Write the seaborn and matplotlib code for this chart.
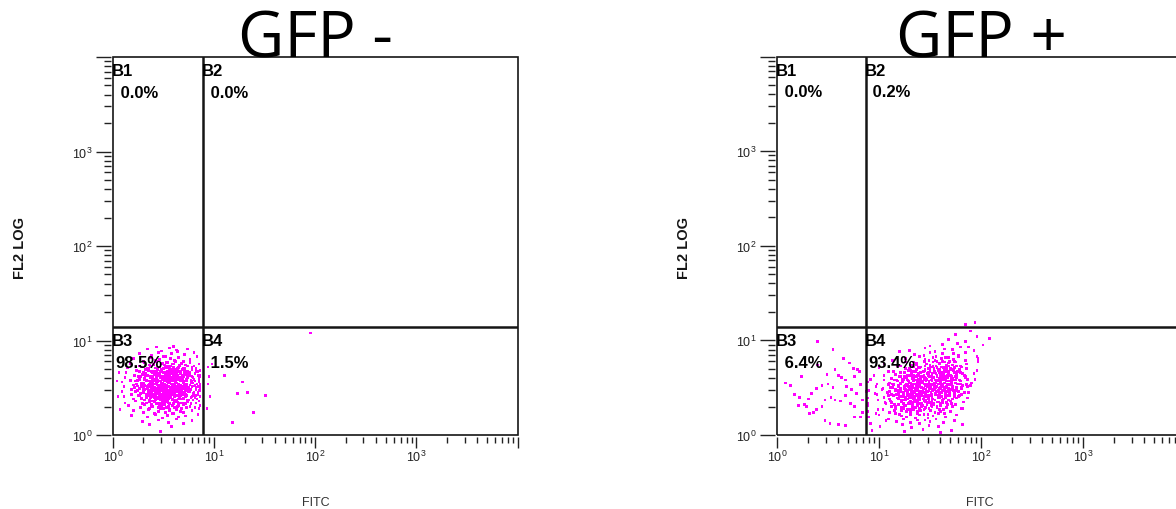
import matplotlib
matplotlib.use("Agg")
import numpy as np
import pandas as pd
import matplotlib.pyplot as plt
from matplotlib import ticker
from matplotlib.patches import Rectangle
import seaborn as sns

# ---------------------------------------------------------------------------
# Data: two FITC / FL2 dot plots with a quadrant gate (B1..B4).
# Events are stored as log10 channel values (decades) for FITC and FL2.
# ---------------------------------------------------------------------------
panel_titles = ["GFP -", "GFP +"]
quadrant_names = ["B1", "B2", "B3", "B4"]
neg_quadrant_pct = [0.0, 0.0, 98.5, 1.5]
pos_quadrant_pct = [0.0, 0.2, 6.4, 93.4]
neg_gate = (7.73, 13.9)       # (FITC threshold, FL2 threshold)
pos_gate = (7.41, 13.9)
axis_limits = (1.0, 1.0e4)
tick_exponents = [0, 1, 2, 3]
x_axis_label = "FITC"
y_axis_label = "FL2 LOG"

neg_b3_events = [
    (0.47, 0.04),
    (0.36, 0.11), (0.58, 0.09), (0.70, 0.12),
    (0.29, 0.14), (0.45, 0.16), (0.55, 0.13), (0.63, 0.17), (0.78, 0.15),
    (0.18, 0.21), (0.34, 0.19), (0.42, 0.22), (0.49, 0.18), (0.54, 0.21), (0.60, 0.23), (0.65, 0.19), (0.72, 0.20), (0.84, 0.22),
    (0.07, 0.27), (0.20, 0.26), (0.30, 0.24), (0.35, 0.27), (0.41, 0.23), (0.45, 0.25), (0.47, 0.28), (0.52, 0.24), (0.56, 0.26),
    (0.59, 0.23), (0.63, 0.27), (0.67, 0.25), (0.70, 0.24), (0.78, 0.26), (0.85, 0.28),
    (0.15, 0.31), (0.27, 0.29), (0.31, 0.32), (0.36, 0.28), (0.38, 0.30), (0.43, 0.33), (0.45, 0.29), (0.46, 0.31), (0.50, 0.28),
    (0.51, 0.32), (0.55, 0.30), (0.56, 0.27), (0.60, 0.33), (0.61, 0.29), (0.65, 0.31), (0.68, 0.28), (0.70, 0.32), (0.76, 0.30),
    (0.81, 0.29), (0.86, 0.31),
    (0.12, 0.34), (0.22, 0.36), (0.29, 0.33), (0.31, 0.37), (0.36, 0.35), (0.38, 0.32), (0.39, 0.36), (0.43, 0.34), (0.45, 0.38),
    (0.45, 0.33), (0.49, 0.35), (0.50, 0.37), (0.50, 0.32), (0.54, 0.36), (0.56, 0.34), (0.56, 0.33), (0.59, 0.37), (0.61, 0.35),
    (0.63, 0.36), (0.65, 0.32), (0.67, 0.34), (0.68, 0.38), (0.72, 0.33), (0.74, 0.35), (0.79, 0.37), (0.82, 0.34), (0.85, 0.36),
    (0.05, 0.41), (0.11, 0.41), (0.20, 0.38), (0.26, 0.42), (0.28, 0.39), (0.33, 0.40), (0.35, 0.43), (0.36, 0.37), (0.39, 0.41),
    (0.41, 0.39), (0.41, 0.42), (0.45, 0.38), (0.44, 0.40), (0.48, 0.43), (0.47, 0.37), (0.50, 0.41), (0.52, 0.39), (0.51, 0.42),
    (0.55, 0.38), (0.54, 0.40), (0.58, 0.43), (0.57, 0.39), (0.61, 0.41), (0.60, 0.37), (0.64, 0.42), (0.66, 0.40), (0.65, 0.38),
    (0.69, 0.43), (0.70, 0.39), (0.72, 0.41), (0.75, 0.37), (0.77, 0.40), (0.80, 0.42), (0.83, 0.38), (0.86, 0.41),
    (0.09, 0.46), (0.18, 0.43), (0.24, 0.47), (0.27, 0.44), (0.30, 0.45), (0.31, 0.48), (0.35, 0.42), (0.36, 0.46), (0.38, 0.44),
    (0.40, 0.47), (0.41, 0.43), (0.42, 0.45), (0.44, 0.48), (0.45, 0.44), (0.46, 0.46), (0.48, 0.42), (0.49, 0.47), (0.50, 0.45),
    (0.52, 0.43), (0.53, 0.48), (0.55, 0.44), (0.56, 0.46), (0.57, 0.42), (0.59, 0.47), (0.60, 0.45), (0.61, 0.43), (0.63, 0.48),
    (0.64, 0.46), (0.66, 0.44), (0.67, 0.42), (0.68, 0.47), (0.71, 0.45), (0.72, 0.43), (0.75, 0.46), (0.77, 0.48), (0.79, 0.44),
    (0.82, 0.42), (0.84, 0.45), (0.86, 0.47),
    (0.11, 0.51), (0.18, 0.48), (0.24, 0.52), (0.26, 0.49), (0.30, 0.50), (0.31, 0.53), (0.35, 0.47), (0.35, 0.51), (0.38, 0.49),
    (0.38, 0.52), (0.41, 0.48), (0.41, 0.50), (0.44, 0.53), (0.43, 0.47), (0.46, 0.51), (0.46, 0.49), (0.49, 0.52), (0.48, 0.48),
    (0.51, 0.50), (0.50, 0.53), (0.53, 0.49), (0.53, 0.51), (0.56, 0.47), (0.55, 0.52), (0.58, 0.50), (0.57, 0.48), (0.60, 0.53),
    (0.60, 0.49), (0.63, 0.51), (0.62, 0.47), (0.65, 0.50), (0.65, 0.52), (0.68, 0.48), (0.68, 0.51), (0.71, 0.53), (0.71, 0.49),
    (0.75, 0.47), (0.75, 0.50), (0.80, 0.52), (0.82, 0.48), (0.84, 0.51), (0.86, 0.49),
    (0.04, 0.57), (0.09, 0.56), (0.20, 0.53), (0.22, 0.57), (0.28, 0.54), (0.28, 0.55), (0.33, 0.58), (0.33, 0.52), (0.37, 0.56),
    (0.36, 0.54), (0.40, 0.57), (0.39, 0.53), (0.43, 0.55), (0.42, 0.58), (0.45, 0.52), (0.44, 0.56), (0.48, 0.54), (0.47, 0.57),
    (0.50, 0.53), (0.49, 0.55), (0.52, 0.58), (0.51, 0.54), (0.54, 0.56), (0.54, 0.52), (0.57, 0.57), (0.56, 0.55), (0.59, 0.53),
    (0.58, 0.58), (0.61, 0.54), (0.62, 0.56), (0.64, 0.52), (0.63, 0.55), (0.67, 0.57), (0.66, 0.53), (0.70, 0.56), (0.69, 0.58),
    (0.73, 0.54), (0.73, 0.52), (0.77, 0.55), (0.78, 0.57), (0.81, 0.53), (0.85, 0.56), (0.86, 0.54),
    (0.12, 0.61), (0.17, 0.58), (0.25, 0.62), (0.26, 0.59), (0.31, 0.60), (0.32, 0.63), (0.34, 0.57), (0.37, 0.61), (0.39, 0.59),
    (0.39, 0.62), (0.42, 0.58), (0.43, 0.60), (0.45, 0.63), (0.46, 0.57), (0.47, 0.61), (0.49, 0.59), (0.50, 0.62), (0.51, 0.58),
    (0.53, 0.60), (0.54, 0.63), (0.56, 0.59), (0.56, 0.61), (0.58, 0.57), (0.60, 0.62), (0.61, 0.60), (0.62, 0.58), (0.64, 0.63),
    (0.65, 0.59), (0.66, 0.61), (0.68, 0.57), (0.69, 0.60), (0.70, 0.62), (0.73, 0.58), (0.74, 0.61), (0.76, 0.63), (0.80, 0.59),
    (0.81, 0.57), (0.85, 0.60), (0.86, 0.62),
    (0.06, 0.66), (0.13, 0.66), (0.21, 0.63), (0.26, 0.67), (0.29, 0.64), (0.32, 0.65), (0.35, 0.68), (0.37, 0.62), (0.39, 0.66),
    (0.41, 0.64), (0.43, 0.67), (0.44, 0.63), (0.46, 0.65), (0.48, 0.68), (0.49, 0.62), (0.51, 0.66), (0.52, 0.64), (0.54, 0.67),
    (0.55, 0.63), (0.57, 0.65), (0.58, 0.68), (0.60, 0.64), (0.62, 0.66), (0.63, 0.62), (0.65, 0.67), (0.67, 0.65), (0.69, 0.63),
    (0.71, 0.68), (0.73, 0.64), (0.76, 0.66), (0.78, 0.62), (0.81, 0.65), (0.84, 0.67), (0.86, 0.63),
    (0.14, 0.71), (0.23, 0.68), (0.28, 0.72), (0.32, 0.69), (0.35, 0.70), (0.37, 0.73), (0.40, 0.67), (0.42, 0.71), (0.44, 0.69),
    (0.46, 0.72), (0.48, 0.68), (0.50, 0.70), (0.52, 0.73), (0.54, 0.67), (0.56, 0.71), (0.58, 0.69), (0.60, 0.72), (0.62, 0.68),
    (0.64, 0.70), (0.66, 0.73), (0.69, 0.69), (0.71, 0.71), (0.74, 0.67), (0.78, 0.72), (0.82, 0.70), (0.86, 0.68),
    (0.17, 0.76), (0.26, 0.73), (0.31, 0.77), (0.36, 0.74), (0.40, 0.75), (0.43, 0.78), (0.46, 0.72), (0.49, 0.76), (0.51, 0.74),
    (0.54, 0.77), (0.57, 0.73), (0.59, 0.75), (0.62, 0.78), (0.65, 0.72), (0.68, 0.76), (0.72, 0.74), (0.76, 0.77), (0.80, 0.73),
    (0.85, 0.75),
    (0.20, 0.81), (0.30, 0.78), (0.37, 0.82), (0.42, 0.79), (0.46, 0.80), (0.50, 0.83), (0.53, 0.77), (0.57, 0.81), (0.61, 0.79),
    (0.65, 0.82), (0.70, 0.78), (0.76, 0.80), (0.83, 0.83),
    (0.26, 0.86), (0.38, 0.84), (0.45, 0.87), (0.52, 0.83), (0.58, 0.86), (0.64, 0.88), (0.71, 0.85), (0.80, 0.87),
    (0.34, 0.91), (0.48, 0.89), (0.56, 0.92), (0.63, 0.90), (0.74, 0.91),
    (0.43, 0.93), (0.60, 0.94),
]

# second acquisition block of the same B3 population (dense core)
neg_b3_core_events = [
    (0.39, 0.30), (0.48, 0.31), (0.53, 0.29), (0.59, 0.31), (0.64, 0.30), (0.73, 0.29),
    (0.33, 0.34), (0.41, 0.35), (0.47, 0.33), (0.52, 0.35), (0.55, 0.34), (0.60, 0.33), (0.64, 0.35), (0.69, 0.34), (0.77, 0.33),
    (0.28, 0.38), (0.37, 0.39), (0.42, 0.37), (0.46, 0.39), (0.49, 0.38), (0.53, 0.37), (0.56, 0.39), (0.59, 0.38), (0.62, 0.37),
    (0.66, 0.39), (0.70, 0.38), (0.74, 0.37), (0.81, 0.39),
    (0.25, 0.42), (0.33, 0.43), (0.38, 0.41), (0.42, 0.43), (0.46, 0.42), (0.49, 0.41), (0.52, 0.43), (0.55, 0.42), (0.57, 0.41),
    (0.60, 0.43), (0.63, 0.42), (0.66, 0.41), (0.69, 0.43), (0.73, 0.42), (0.78, 0.41), (0.84, 0.43),
    (0.22, 0.46), (0.30, 0.47), (0.35, 0.45), (0.39, 0.47), (0.43, 0.46), (0.46, 0.45), (0.48, 0.47), (0.51, 0.46), (0.54, 0.45),
    (0.56, 0.47), (0.58, 0.46), (0.61, 0.45), (0.63, 0.47), (0.66, 0.46), (0.69, 0.45), (0.72, 0.47), (0.76, 0.46), (0.80, 0.45),
    (0.85, 0.47),
    (0.21, 0.50), (0.28, 0.51), (0.34, 0.49), (0.38, 0.51), (0.41, 0.50), (0.44, 0.49), (0.47, 0.51), (0.50, 0.50), (0.52, 0.49),
    (0.54, 0.51), (0.57, 0.50), (0.59, 0.49), (0.61, 0.51), (0.64, 0.50), (0.66, 0.49), (0.69, 0.51), (0.72, 0.50), (0.75, 0.49),
    (0.78, 0.51), (0.82, 0.50), (0.86, 0.50),
    (0.23, 0.54), (0.30, 0.55), (0.35, 0.53), (0.39, 0.55), (0.42, 0.54), (0.45, 0.53), (0.48, 0.55), (0.51, 0.54), (0.53, 0.53),
    (0.55, 0.55), (0.58, 0.54), (0.60, 0.53), (0.62, 0.55), (0.65, 0.54), (0.67, 0.53), (0.70, 0.55), (0.73, 0.54), (0.76, 0.53),
    (0.79, 0.55), (0.83, 0.54), (0.86, 0.53),
    (0.24, 0.58), (0.31, 0.59), (0.36, 0.57), (0.40, 0.59), (0.44, 0.58), (0.47, 0.57), (0.49, 0.59), (0.52, 0.58), (0.55, 0.57),
    (0.57, 0.59), (0.59, 0.58), (0.62, 0.57), (0.64, 0.59), (0.67, 0.58), (0.70, 0.57), (0.73, 0.59), (0.77, 0.58), (0.81, 0.57),
    (0.85, 0.59),
    (0.27, 0.62), (0.34, 0.63), (0.39, 0.61), (0.43, 0.63), (0.47, 0.62), (0.50, 0.61), (0.53, 0.63), (0.56, 0.62), (0.58, 0.61),
    (0.61, 0.63), (0.64, 0.62), (0.67, 0.61), (0.70, 0.63), (0.74, 0.62), (0.79, 0.61), (0.84, 0.63),
    (0.30, 0.66), (0.38, 0.67), (0.43, 0.65), (0.47, 0.67), (0.50, 0.66), (0.54, 0.65), (0.57, 0.67), (0.60, 0.66), (0.63, 0.65),
    (0.67, 0.67), (0.71, 0.66), (0.75, 0.65), (0.82, 0.67),
    (0.34, 0.70), (0.42, 0.71), (0.48, 0.69), (0.53, 0.71), (0.56, 0.70), (0.61, 0.69), (0.65, 0.71), (0.70, 0.70), (0.78, 0.69),
    (0.40, 0.74), (0.49, 0.75), (0.55, 0.73), (0.60, 0.75), (0.66, 0.74), (0.74, 0.73),
]

neg_b4_events = [
    (0.94, 0.72), (0.95, 0.62), (0.94, 0.54), (0.96, 0.41), (1.10, 0.63), (1.28, 0.56), (1.23, 0.44),
    (1.33, 0.45), (1.51, 0.42), (1.39, 0.24), (1.18, 0.13), (0.98, 0.75), (0.93, 0.28), (1.95, 1.08),
]

pos_b2_events = [(1.94, 1.19), (1.85, 1.17)]

pos_b3_events = [
    (0.40, 0.99), (0.55, 0.90), (0.65, 0.81), (0.71, 0.76), (0.75, 0.70), (0.79, 0.69), (0.40, 0.74),
    (0.24, 0.62), (0.08, 0.55), (0.13, 0.52), (0.17, 0.43), (0.22, 0.40), (0.31, 0.38), (0.27, 0.32),
    (0.29, 0.30), (0.34, 0.44), (0.39, 0.49), (0.44, 0.52), (0.50, 0.54), (0.49, 0.64), (0.57, 0.69),
    (0.60, 0.63), (0.63, 0.61), (0.67, 0.58), (0.55, 0.50), (0.53, 0.40), (0.47, 0.37), (0.44, 0.30),
    (0.39, 0.27), (0.36, 0.24), (0.47, 0.15), (0.52, 0.12), (0.60, 0.11), (0.67, 0.10), (0.76, 0.19),
    (0.76, 0.30), (0.72, 0.33), (0.67, 0.42), (0.73, 0.48), (0.78, 0.44), (0.82, 0.53), (0.84, 0.37),
    (0.84, 0.24), (0.82, 0.19), (0.57, 0.37), (0.62, 0.36), (0.68, 0.51), (0.76, 0.62), (0.81, 0.67),
    (0.21, 0.31), (0.32, 0.23),
]

pos_b4_events = [
    (0.93, 0.05), (1.25, 0.04), (1.43, 0.06), (1.60, 0.03), (1.71, 0.05),
    (1.01, 0.09), (1.23, 0.11), (1.32, 0.08), (1.40, 0.12), (1.49, 0.10), (1.58, 0.09), (1.82, 0.11),
    (1.38, 0.16), (1.31, 0.13), (1.24, 0.17), (1.17, 0.14), (1.07, 0.15), (0.92, 0.12), (1.45, 0.16), (1.50, 0.14),
    (1.56, 0.17), (1.63, 0.13), (1.74, 0.15),
    (1.40, 0.21), (1.36, 0.18), (1.31, 0.22), (1.27, 0.19), (1.22, 0.20), (1.16, 0.23), (1.09, 0.17), (1.00, 0.21),
    (0.90, 0.19), (1.44, 0.22), (1.48, 0.18), (1.53, 0.20), (1.58, 0.23), (1.65, 0.19), (1.76, 0.21),
    (1.41, 0.26), (1.38, 0.23), (1.34, 0.27), (1.31, 0.24), (1.27, 0.25), (1.24, 0.28), (1.20, 0.22), (1.15, 0.26),
    (1.10, 0.24), (1.04, 0.27), (0.97, 0.23), (0.89, 0.25), (1.45, 0.28), (1.48, 0.22), (1.51, 0.26), (1.55, 0.24),
    (1.59, 0.27), (1.64, 0.23), (1.70, 0.25), (1.81, 0.28),
    (1.43, 0.31), (1.40, 0.28), (1.38, 0.32), (1.36, 0.29), (1.33, 0.30), (1.31, 0.33), (1.28, 0.27), (1.25, 0.31),
    (1.22, 0.29), (1.19, 0.32), (1.16, 0.28), (1.12, 0.30), (1.07, 0.33), (0.99, 0.27), (0.89, 0.31), (1.45, 0.29),
    (1.47, 0.32), (1.49, 0.28), (1.52, 0.30), (1.54, 0.33), (1.57, 0.29), (1.60, 0.31), (1.63, 0.27), (1.67, 0.32),
    (1.72, 0.30), (1.82, 0.28),
    (1.44, 0.36), (1.42, 0.33), (1.40, 0.37), (1.38, 0.34), (1.37, 0.35), (1.35, 0.38), (1.33, 0.32), (1.31, 0.36),
    (1.30, 0.34), (1.26, 0.37), (1.24, 0.33), (1.22, 0.35), (1.19, 0.38), (1.15, 0.32), (1.11, 0.36), (1.06, 0.34),
    (0.99, 0.37), (0.89, 0.33), (1.46, 0.35), (1.48, 0.38), (1.50, 0.34), (1.52, 0.36), (1.54, 0.32), (1.55, 0.37),
    (1.58, 0.35), (1.60, 0.33), (1.63, 0.38), (1.66, 0.34), (1.70, 0.36), (1.75, 0.32), (1.83, 0.35),
    (1.45, 0.41), (1.44, 0.38), (1.42, 0.42), (1.40, 0.39), (1.39, 0.40), (1.37, 0.43), (1.35, 0.37), (1.34, 0.41),
    (1.32, 0.39), (1.29, 0.42), (1.28, 0.38), (1.26, 0.40), (1.24, 0.43), (1.22, 0.37), (1.20, 0.41), (1.18, 0.39),
    (1.14, 0.42), (1.10, 0.38), (1.05, 0.40), (0.98, 0.43), (0.89, 0.39), (1.47, 0.41), (1.49, 0.37), (1.50, 0.42),
    (1.52, 0.40), (1.53, 0.38), (1.56, 0.43), (1.58, 0.39), (1.60, 0.41), (1.62, 0.37), (1.65, 0.40), (1.68, 0.42),
    (1.72, 0.38), (1.78, 0.41), (1.87, 0.39),
    (1.46, 0.46), (1.45, 0.43), (1.43, 0.47), (1.42, 0.44), (1.40, 0.45), (1.38, 0.48), (1.37, 0.42), (1.35, 0.46),
    (1.33, 0.44), (1.32, 0.47), (1.30, 0.43), (1.28, 0.45), (1.26, 0.48), (1.24, 0.42), (1.21, 0.46), (1.19, 0.44),
    (1.16, 0.47), (1.12, 0.43), (1.08, 0.45), (1.03, 0.48), (0.96, 0.44), (0.88, 0.46), (1.48, 0.42), (1.49, 0.47),
    (1.51, 0.45), (1.52, 0.43), (1.54, 0.48), (1.55, 0.44), (1.57, 0.46), (1.59, 0.42), (1.61, 0.45), (1.63, 0.47),
    (1.65, 0.43), (1.67, 0.46), (1.70, 0.48), (1.74, 0.44), (1.79, 0.42), (1.88, 0.45),
    (1.47, 0.51), (1.46, 0.48), (1.45, 0.52), (1.43, 0.49), (1.42, 0.50), (1.40, 0.53), (1.38, 0.47), (1.37, 0.51),
    (1.36, 0.49), (1.33, 0.52), (1.31, 0.48), (1.30, 0.50), (1.28, 0.53), (1.26, 0.47), (1.25, 0.51), (1.21, 0.49),
    (1.19, 0.52), (1.16, 0.48), (1.13, 0.50), (1.09, 0.53), (1.04, 0.49), (0.97, 0.51), (0.90, 0.47), (1.49, 0.52),
    (1.50, 0.50), (1.52, 0.48), (1.54, 0.53), (1.55, 0.49), (1.57, 0.51), (1.58, 0.47), (1.60, 0.50), (1.61, 0.52),
    (1.64, 0.48), (1.66, 0.51), (1.69, 0.53), (1.72, 0.49), (1.76, 0.47), (1.81, 0.50), (1.90, 0.52),
    (1.49, 0.56), (1.47, 0.53), (1.46, 0.57), (1.44, 0.54), (1.43, 0.55), (1.41, 0.58), (1.39, 0.52), (1.38, 0.56),
    (1.36, 0.54), (1.34, 0.57), (1.32, 0.53), (1.30, 0.55), (1.28, 0.58), (1.26, 0.52), (1.23, 0.56), (1.21, 0.54),
    (1.18, 0.57), (1.14, 0.53), (1.10, 0.55), (1.05, 0.58), (0.98, 0.54), (0.89, 0.56), (1.51, 0.52), (1.52, 0.57),
    (1.54, 0.55), (1.55, 0.53), (1.57, 0.58), (1.58, 0.54), (1.60, 0.56), (1.62, 0.52), (1.64, 0.55), (1.66, 0.57),
    (1.68, 0.53), (1.71, 0.56), (1.73, 0.58), (1.77, 0.54), (1.82, 0.52), (1.91, 0.55),
    (1.52, 0.61), (1.51, 0.58), (1.49, 0.62), (1.47, 0.59), (1.46, 0.60), (1.44, 0.63), (1.43, 0.57), (1.41, 0.61),
    (1.39, 0.59), (1.37, 0.62), (1.35, 0.58), (1.33, 0.60), (1.31, 0.63), (1.29, 0.57), (1.27, 0.61), (1.24, 0.59),
    (1.21, 0.62), (1.17, 0.58), (1.12, 0.60), (1.05, 0.63), (0.92, 0.59), (1.54, 0.61), (1.56, 0.57), (1.57, 0.62),
    (1.59, 0.60), (1.61, 0.58), (1.63, 0.63), (1.65, 0.59), (1.67, 0.61), (1.70, 0.57), (1.72, 0.60), (1.75, 0.62),
    (1.79, 0.58), (1.85, 0.61), (1.94, 0.59),
    (1.54, 0.66), (1.52, 0.63), (1.50, 0.67), (1.49, 0.64), (1.47, 0.65), (1.45, 0.68), (1.43, 0.62), (1.41, 0.66),
    (1.39, 0.64), (1.36, 0.67), (1.34, 0.63), (1.32, 0.65), (1.29, 0.68), (1.25, 0.62), (1.21, 0.66), (1.16, 0.64),
    (1.09, 0.67), (0.95, 0.63), (1.56, 0.65), (1.58, 0.68), (1.60, 0.64), (1.62, 0.66), (1.64, 0.62), (1.66, 0.67),
    (1.68, 0.65), (1.70, 0.63), (1.73, 0.68), (1.76, 0.64), (1.80, 0.66), (1.85, 0.62), (1.93, 0.65),
    (1.57, 0.71), (1.54, 0.68), (1.52, 0.72), (1.50, 0.69), (1.48, 0.70), (1.45, 0.73), (1.43, 0.67), (1.40, 0.71),
    (1.37, 0.69), (1.34, 0.72), (1.31, 0.68), (1.26, 0.70), (1.21, 0.73), (1.14, 0.67), (1.00, 0.71), (1.59, 0.69),
    (1.61, 0.72), (1.64, 0.68), (1.66, 0.70), (1.68, 0.73), (1.71, 0.69), (1.74, 0.71), (1.77, 0.67), (1.81, 0.72),
    (1.86, 0.70), (1.96, 0.68),
    (1.59, 0.76), (1.56, 0.73), (1.53, 0.77), (1.50, 0.74), (1.47, 0.75), (1.44, 0.78), (1.41, 0.72), (1.37, 0.76),
    (1.32, 0.74), (1.26, 0.77), (1.18, 0.73), (1.05, 0.75), (1.62, 0.78), (1.65, 0.72), (1.68, 0.76), (1.72, 0.74),
    (1.75, 0.77), (1.80, 0.73), (1.86, 0.75), (1.97, 0.78),
    (1.61, 0.81), (1.57, 0.78), (1.53, 0.82), (1.49, 0.79), (1.45, 0.80), (1.40, 0.83), (1.34, 0.77), (1.26, 0.81),
    (1.13, 0.79), (1.65, 0.82), (1.69, 0.78), (1.73, 0.80), (1.78, 0.83), (1.85, 0.79), (1.97, 0.81),
    (1.62, 0.86), (1.56, 0.83), (1.50, 0.87), (1.44, 0.84), (1.35, 0.85), (1.20, 0.88), (1.68, 0.82), (1.73, 0.86),
    (1.78, 0.84), (1.85, 0.87), (1.96, 0.83),
    (1.64, 0.91), (1.55, 0.88), (1.45, 0.92), (1.30, 0.89), (1.72, 0.90), (1.80, 0.93), (1.93, 0.89),
    (1.62, 0.96), (1.50, 0.94), (1.77, 0.97), (1.88, 0.93), (2.02, 0.95),
    (1.68, 1.01), (1.85, 0.99), (2.08, 1.02),
    (1.75, 1.06), (1.96, 1.04),
    (1.90, 1.10),
]

# second acquisition block of the same B4 population (dense core)
pos_b4_core_events = [
    (1.22, 0.26), (1.31, 0.27), (1.38, 0.25), (1.44, 0.27), (1.50, 0.26), (1.60, 0.25),
    (1.16, 0.30), (1.26, 0.31), (1.33, 0.29), (1.38, 0.31), (1.42, 0.30), (1.46, 0.29), (1.51, 0.31), (1.57, 0.30), (1.66, 0.29),
    (1.12, 0.34), (1.22, 0.35), (1.29, 0.33), (1.34, 0.35), (1.38, 0.34), (1.41, 0.33), (1.45, 0.35), (1.48, 0.34), (1.52, 0.33),
    (1.57, 0.35), (1.62, 0.34), (1.71, 0.33),
    (1.10, 0.38), (1.19, 0.39), (1.25, 0.37), (1.30, 0.39), (1.34, 0.38), (1.37, 0.37), (1.40, 0.39), (1.43, 0.38), (1.46, 0.37),
    (1.49, 0.39), (1.52, 0.38), (1.55, 0.37), (1.59, 0.39), (1.63, 0.38), (1.68, 0.37), (1.76, 0.39),
    (1.09, 0.42), (1.17, 0.43), (1.23, 0.41), (1.28, 0.43), (1.32, 0.42), (1.35, 0.41), (1.38, 0.43), (1.41, 0.42), (1.44, 0.41),
    (1.46, 0.43), (1.49, 0.42), (1.52, 0.41), (1.55, 0.43), (1.58, 0.42), (1.61, 0.41), (1.65, 0.43), (1.69, 0.42), (1.74, 0.41),
    (1.81, 0.43),
    (1.10, 0.46), (1.18, 0.47), (1.24, 0.45), (1.28, 0.47), (1.32, 0.46), (1.35, 0.45), (1.38, 0.47), (1.41, 0.46), (1.44, 0.45),
    (1.46, 0.47), (1.48, 0.46), (1.51, 0.45), (1.53, 0.47), (1.56, 0.46), (1.59, 0.45), (1.62, 0.47), (1.65, 0.46), (1.69, 0.45),
    (1.73, 0.47), (1.78, 0.46), (1.84, 0.45),
    (1.11, 0.50), (1.19, 0.51), (1.25, 0.49), (1.29, 0.51), (1.33, 0.50), (1.36, 0.49), (1.39, 0.51), (1.42, 0.50), (1.44, 0.49),
    (1.47, 0.51), (1.49, 0.50), (1.51, 0.49), (1.54, 0.51), (1.56, 0.50), (1.59, 0.49), (1.62, 0.51), (1.65, 0.50), (1.68, 0.49),
    (1.72, 0.51), (1.76, 0.50), (1.81, 0.49), (1.87, 0.51),
    (1.13, 0.54), (1.21, 0.55), (1.27, 0.53), (1.31, 0.55), (1.35, 0.54), (1.38, 0.53), (1.41, 0.55), (1.44, 0.54), (1.46, 0.53),
    (1.49, 0.55), (1.51, 0.54), (1.53, 0.53), (1.56, 0.55), (1.58, 0.54), (1.61, 0.53), (1.64, 0.55), (1.67, 0.54), (1.71, 0.53),
    (1.75, 0.55), (1.80, 0.54), (1.86, 0.53),
    (1.15, 0.58), (1.23, 0.59), (1.29, 0.57), (1.34, 0.59), (1.38, 0.58), (1.41, 0.57), (1.44, 0.59), (1.47, 0.58), (1.49, 0.57),
    (1.52, 0.59), (1.55, 0.58), (1.58, 0.57), (1.61, 0.59), (1.64, 0.58), (1.67, 0.57), (1.71, 0.59), (1.75, 0.58), (1.80, 0.57),
    (1.87, 0.59),
    (1.20, 0.62), (1.28, 0.63), (1.34, 0.61), (1.38, 0.63), (1.42, 0.62), (1.45, 0.61), (1.48, 0.63), (1.51, 0.62), (1.54, 0.61),
    (1.57, 0.63), (1.60, 0.62), (1.63, 0.61), (1.67, 0.63), (1.71, 0.62), (1.76, 0.61), (1.84, 0.63),
    (1.25, 0.66), (1.33, 0.67), (1.39, 0.65), (1.44, 0.67), (1.48, 0.66), (1.52, 0.65), (1.55, 0.67), (1.59, 0.66), (1.63, 0.65),
    (1.68, 0.67), (1.74, 0.66), (1.82, 0.65),
    (1.30, 0.70), (1.39, 0.71), (1.45, 0.69), (1.50, 0.71), (1.54, 0.70), (1.58, 0.69), (1.63, 0.71), (1.70, 0.70), (1.79, 0.69),
    (1.37, 0.74), (1.46, 0.75), (1.53, 0.73), (1.59, 0.75), (1.66, 0.74), (1.76, 0.73),
    (1.45, 0.78), (1.55, 0.79), (1.64, 0.77), (1.74, 0.78),
]

# ---------------------------------------------------------------------------
# Styling
# ---------------------------------------------------------------------------
sns.set_theme(style="ticks")
plt.rcParams.update({
    "font.family": ["Liberation Sans", "DejaVu Sans"],
    "mathtext.fontset": "custom",
    "mathtext.rm": "Liberation Sans",
    "mathtext.it": "Liberation Sans:italic",
    "mathtext.bf": "Liberation Sans:bold",
})

DOT_COLOR = "#ff00ff"
INK = "#151515"
TICK_INK = "#222222"
W, H = 1176, 510


def px_rect(left, top, right, bottom):
    """Axes rectangle given in pixel edges (origin at top-left)."""
    return [left / W, 1 - bottom / H, (right - left) / W, (bottom - top) / H]


def events_table(groups):
    rows = []
    for quadrant, events in groups:
        for fitc_dec, fl2_dec in events:
            rows.append((quadrant, 10.0 ** fitc_dec, 10.0 ** fl2_dec))
    return pd.DataFrame(rows, columns=["quadrant", "FITC", "FL2"])


def decade_label(value, pos):
    exp = int(round(np.log10(value)))
    return rf"$\mathregular{{10^{{{exp}}}}}$" if exp in tick_exponents else ""


def draw_panel(ax, table, gate, pcts):
    ax.set_xscale("log")
    ax.set_yscale("log")
    sns.scatterplot(data=table, x="FITC", y="FL2", ax=ax, color=DOT_COLOR,
                    marker="s", s=3.8, linewidth=0, edgecolor="none",
                    legend=False, zorder=2)
    ax.set_xlim(*axis_limits)
    ax.set_ylim(*axis_limits)
    ax.set_xlabel("")
    ax.set_ylabel("")

    # quadrant gate
    ax.axvline(gate[0], color=INK, lw=1.8, zorder=3)
    ax.axhline(gate[1], color=INK, lw=1.8, zorder=3)

    # frame drawn as one rectangle; the bottom/left spines only carry ticks,
    # pushed slightly outward so the ticks stand off the frame
    for side in ("left", "bottom", "top", "right"):
        ax.spines[side].set_visible(False)
    ax.spines["left"].set_position(("outward", 1.2))
    ax.spines["bottom"].set_position(("outward", 1.2))
    ax.add_patch(Rectangle((0, 0), 1, 1, transform=ax.transAxes, fill=False,
                           ec=INK, lw=1.2, clip_on=False, zorder=4))

    for axis in (ax.xaxis, ax.yaxis):
        axis.set_major_locator(ticker.LogLocator(base=10, numticks=12))
        axis.set_minor_locator(ticker.LogLocator(base=10, subs=np.arange(2, 10), numticks=12))
        axis.set_major_formatter(ticker.FuncFormatter(decade_label))
        axis.set_minor_formatter(ticker.NullFormatter())

    ax.tick_params(which="both", direction="out", color=TICK_INK, width=1.0,
                   labelcolor=TICK_INK, labelsize=9, left=True, bottom=True)
    ax.tick_params(axis="y", which="major", length=11, pad=2.5)
    ax.tick_params(axis="y", which="minor", length=5.4)
    ax.tick_params(axis="x", which="major", length=8, pad=1.0)
    ax.tick_params(axis="x", which="minor", length=4)

    # quadrant names and percentages
    lo, hi = axis_limits
    corners = [(lo, hi), (gate[0], hi), (lo, gate[1]), (gate[0], gate[1])]
    for name, pct, (cx, cy) in zip(quadrant_names, pcts, corners):
        ax.annotate(name, xy=(cx, cy), xytext=(-0.9, -13.2), textcoords="offset points",
                    ha="left", va="baseline", fontsize=12, fontweight="bold",
                    color="black", zorder=5, annotation_clip=False)
        ax.annotate(f"{pct:4.1f}%", xy=(cx, cy), xytext=(2.0, -28.6), textcoords="offset points",
                    ha="left", va="baseline", fontsize=12, fontweight="bold",
                    color="black", zorder=5, annotation_clip=False)


fig = plt.figure(figsize=(W / 100, H / 100), dpi=100)
fig.patch.set_facecolor("white")

ax_neg = fig.add_axes(px_rect(113, 58, 517.5, 436))
ax_pos = fig.add_axes(px_rect(777, 57.5, 1185, 436))

neg_table = events_table([("B3", neg_b3_events), ("B3", neg_b3_core_events),
                          ("B4", neg_b4_events)])
pos_table = events_table([("B2", pos_b2_events), ("B3", pos_b3_events),
                          ("B4", pos_b4_events), ("B4", pos_b4_core_events)])

draw_panel(ax_neg, neg_table, neg_gate, neg_quadrant_pct)
draw_panel(ax_pos, pos_table, pos_gate, pos_quadrant_pct)

# titles and axis captions
for title, cx in zip(panel_titles, (315.5, 981)):
    fig.text(cx / W, 1 - 57 / H, title, ha="center", va="baseline",
             fontsize=46, family="Open Sans", color="black")
for cx in (20, 684):
    fig.text(cx / W, 1 - 248 / H, y_axis_label, rotation=90, ha="center", va="center",
             fontsize=10.5, fontweight="bold", color=INK)
for cx in (316, 980):
    fig.text(cx / W, 1 - 497 / H, x_axis_label, ha="center", va="top",
             fontsize=9, color="#333333")

fig.savefig("out.png", dpi=100, facecolor="white")
